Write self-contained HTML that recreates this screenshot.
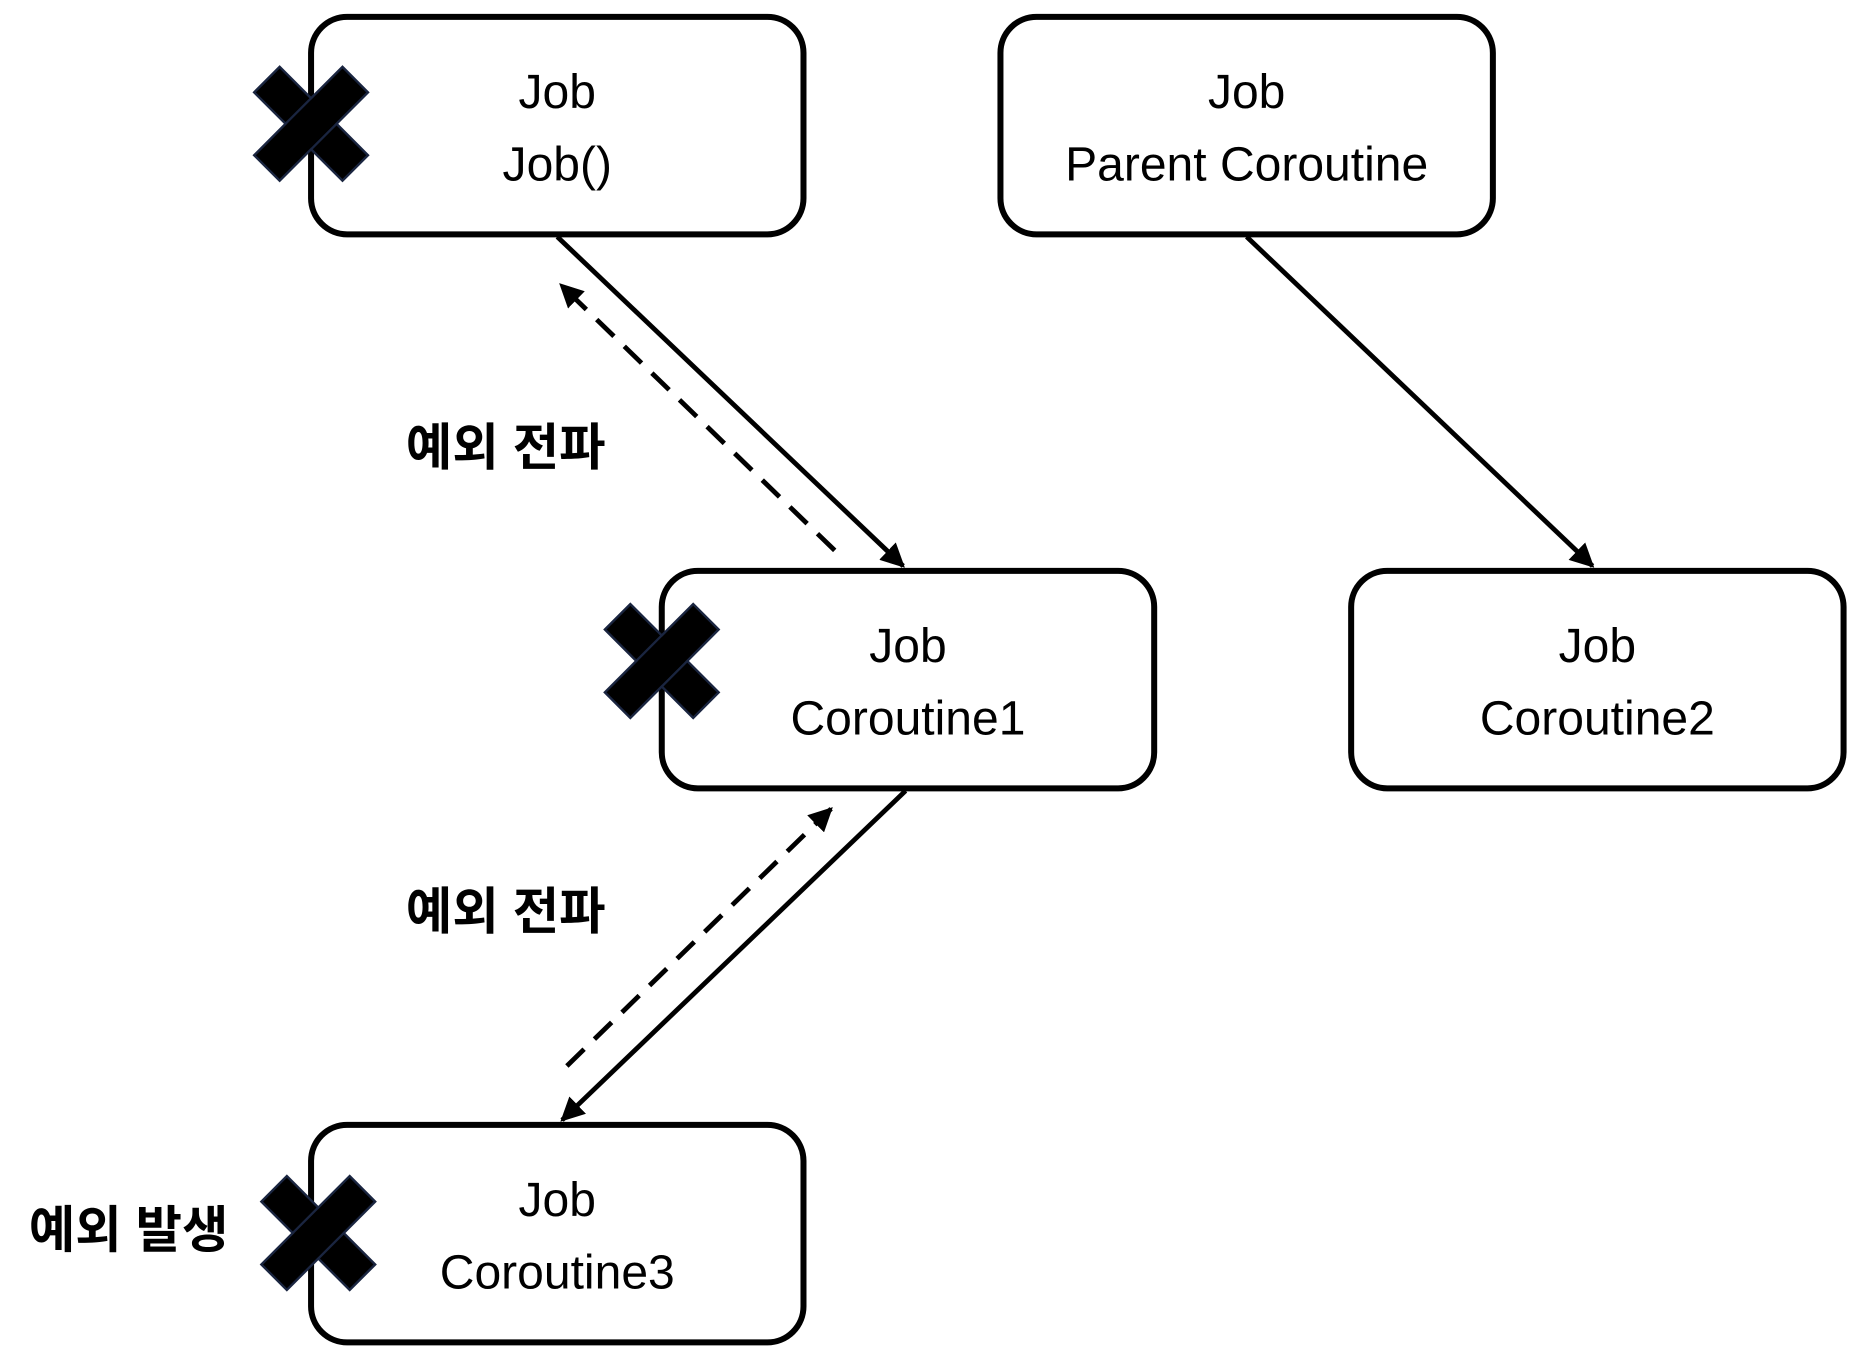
<!DOCTYPE html>
<html><head><meta charset="utf-8"><style>html,body{margin:0;padding:0;background:#fff}svg{display:block}</style></head>
<body>
<svg width="1876" height="1358" viewBox="0 0 1562 1130" preserveAspectRatio="none" xmlns="http://www.w3.org/2000/svg">
<defs>
<marker id="a" viewBox="0 0 10 10" refX="9" refY="5" markerWidth="5" markerHeight="5" orient="auto"><path d="M0,0 L10,5 L0,10 z" fill="#000"/></marker>
<g id="x"><g transform="rotate(45)"><rect x="-52" y="-15" width="104" height="30" fill="#000" stroke="#1a2540" stroke-width="2"/><rect x="-15" y="-52" width="30" height="104" fill="#000" stroke="#1a2540" stroke-width="2"/><rect x="-14" y="-14" width="28" height="28" fill="#000"/></g></g>
</defs>
<g fill="#fff" stroke="#000" stroke-width="5">
<rect x="259" y="14" width="410" height="181" rx="30"/>
<rect x="833" y="14" width="410" height="181" rx="30"/>
<rect x="551" y="475" width="410" height="181" rx="30"/>
<rect x="1125" y="475" width="410" height="181" rx="30"/>
<rect x="259" y="936" width="410" height="181" rx="30"/>
</g>
<g stroke="#000" stroke-width="4" fill="none">
<line x1="464" y1="197" x2="752" y2="471" marker-end="url(#a)"/>
<line x1="1038" y1="197" x2="1326" y2="471" marker-end="url(#a)"/>
<line x1="754" y1="658" x2="468" y2="932" marker-end="url(#a)"/>
<line x1="695" y1="458" x2="467" y2="237" stroke-dasharray="20,12" marker-end="url(#a)"/>
<line x1="472" y1="887" x2="692" y2="673" stroke-dasharray="20,12" marker-end="url(#a)"/>
</g>
<g font-family="Liberation Sans, sans-serif" font-size="40" text-anchor="middle" fill="#000">
<text x="464" y="90">Job</text><text x="464" y="150">Job()</text>
<text x="1038" y="90">Job</text><text x="1038" y="150">Parent Coroutine</text>
<text x="756" y="551">Job</text><text x="756" y="611">Coroutine1</text>
<text x="1330" y="551">Job</text><text x="1330" y="611">Coroutine2</text>
<text x="464" y="1012">Job</text><text x="464" y="1072">Coroutine3</text>
</g>
<g font-family="Liberation Sans, 'Noto Sans CJK KR', sans-serif" font-size="42" font-weight="bold" fill="#000">
<text x="338" y="387">예외 전파</text>
<text x="338" y="773">예외 전파</text>
<text x="24" y="1038">예외 발생</text>
</g>
<use href="#x" x="259" y="103"/>
<use href="#x" x="551" y="550"/>
<use href="#x" x="265" y="1026"/>
</svg>
</body></html>
